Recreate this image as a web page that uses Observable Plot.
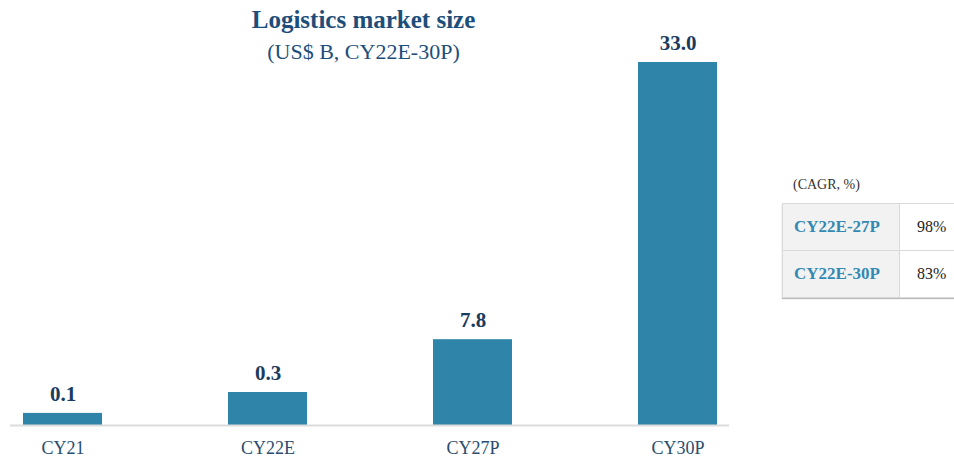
<!DOCTYPE html>
<html>
<head>
<meta charset="utf-8">
<script src="https://cdn.jsdelivr.net/npm/d3@7"></script>
<script src="https://cdn.jsdelivr.net/npm/@observablehq/plot@0.6"></script>
<style>
  html, body { margin: 0; padding: 0; background: #fff; }
  #wrap { position: relative; width: 954px; height: 457px; overflow: hidden; font-family: "Liberation Serif", "Times New Roman", serif; }
  #chart { position: absolute; left: 0; top: 0; }
  .title { position: absolute; left: 0; width: 727px; text-align: center; color: #1d4e7a; white-space: nowrap; }
  #t1 { top: 6px; font-size: 25px; font-weight: bold; }
  #t2 { top: 39px; font-size: 22px; }
  #cagrLabel { position: absolute; left: 793px; top: 177px; font-size: 14px; color: #333; }
  #cagr { position: absolute; left: 782px; top: 203px; width: 200px; table-layout: fixed; border-collapse: collapse; box-shadow: 0 1px 1px #bbb; }
  #cagr td { border: 1px solid #d9d9d9; height: 46px; padding: 0; white-space: nowrap; }
  #cagr td.k { background: #f2f2f2; width: 105px; padding-left: 11px; color: #3489b3; font-weight: bold; font-size: 17px; }
  #cagr td.v { width: 66px; padding-left: 17px; color: #222; font-size: 16px; }
</style>
</head>
<body>
<div id="wrap">
  <div id="chart"></div>
  <div class="title" id="t1"></div>
  <div class="title" id="t2"></div>
  <div id="cagrLabel"></div>
  <table id="cagr"></table>
</div>
<script>
const title = "Logistics market size";
const subtitle = "(US$ B, CY22E-30P)";
const categories = ["CY21", "CY22E", "CY27P", "CY30P"];
const values = [0.1, 0.3, 7.8, 33.0];               // printed value labels
const barHeights = [1.1, 3.0, 7.8, 33.0];           // bar heights as drawn in the reference (small bars not to scale)
const cagrTitle = "(CAGR, %)";
const cagrPeriods = ["CY22E-27P", "CY22E-30P"];
const cagrValues = ["98%", "83%"];

document.getElementById("t1").textContent = title;
document.getElementById("t2").textContent = subtitle;
document.getElementById("cagrLabel").textContent = cagrTitle;
const tbl = document.getElementById("cagr");
cagrPeriods.forEach((p, i) => {
  const tr = document.createElement("tr");
  const a = document.createElement("td"); a.className = "k"; a.textContent = p;
  const b = document.createElement("td"); b.className = "v"; b.textContent = cagrValues[i];
  tr.appendChild(a); tr.appendChild(b); tbl.appendChild(tr);
});

const data = categories.map((c, i) => ({cat: c, value: values[i], h: barHeights[i]}));

const chart = Plot.plot({
  width: 954,
  height: 457,
  marginLeft: 10,
  marginRight: 225,
  marginTop: 62,
  marginBottom: 32,
  style: {fontFamily: "Liberation Serif, Times New Roman, serif", background: "transparent"},
  x: {domain: categories, paddingInner: 0.615, paddingOuter: 0.057, axis: null},
  y: {domain: [0, 33], axis: null},
  marks: [
    Plot.barY(data, {x: "cat", y: "h", fill: "#2e85a9"}),
    Plot.ruleY([0], {stroke: "#dcdcdc", strokeWidth: 2}),
    Plot.text(data, {x: "cat", y: "h", text: d => d.value.toFixed(1), dy: -19, fontSize: 21, fontWeight: "bold", fill: "#1b3b5e"}),
    Plot.text(data, {x: "cat", frameAnchor: "bottom", text: "cat", dy: 28, fontSize: 18, fill: "#2a4d6e"})
  ]
});
document.getElementById("chart").appendChild(chart);
</script>
</body>
</html>
